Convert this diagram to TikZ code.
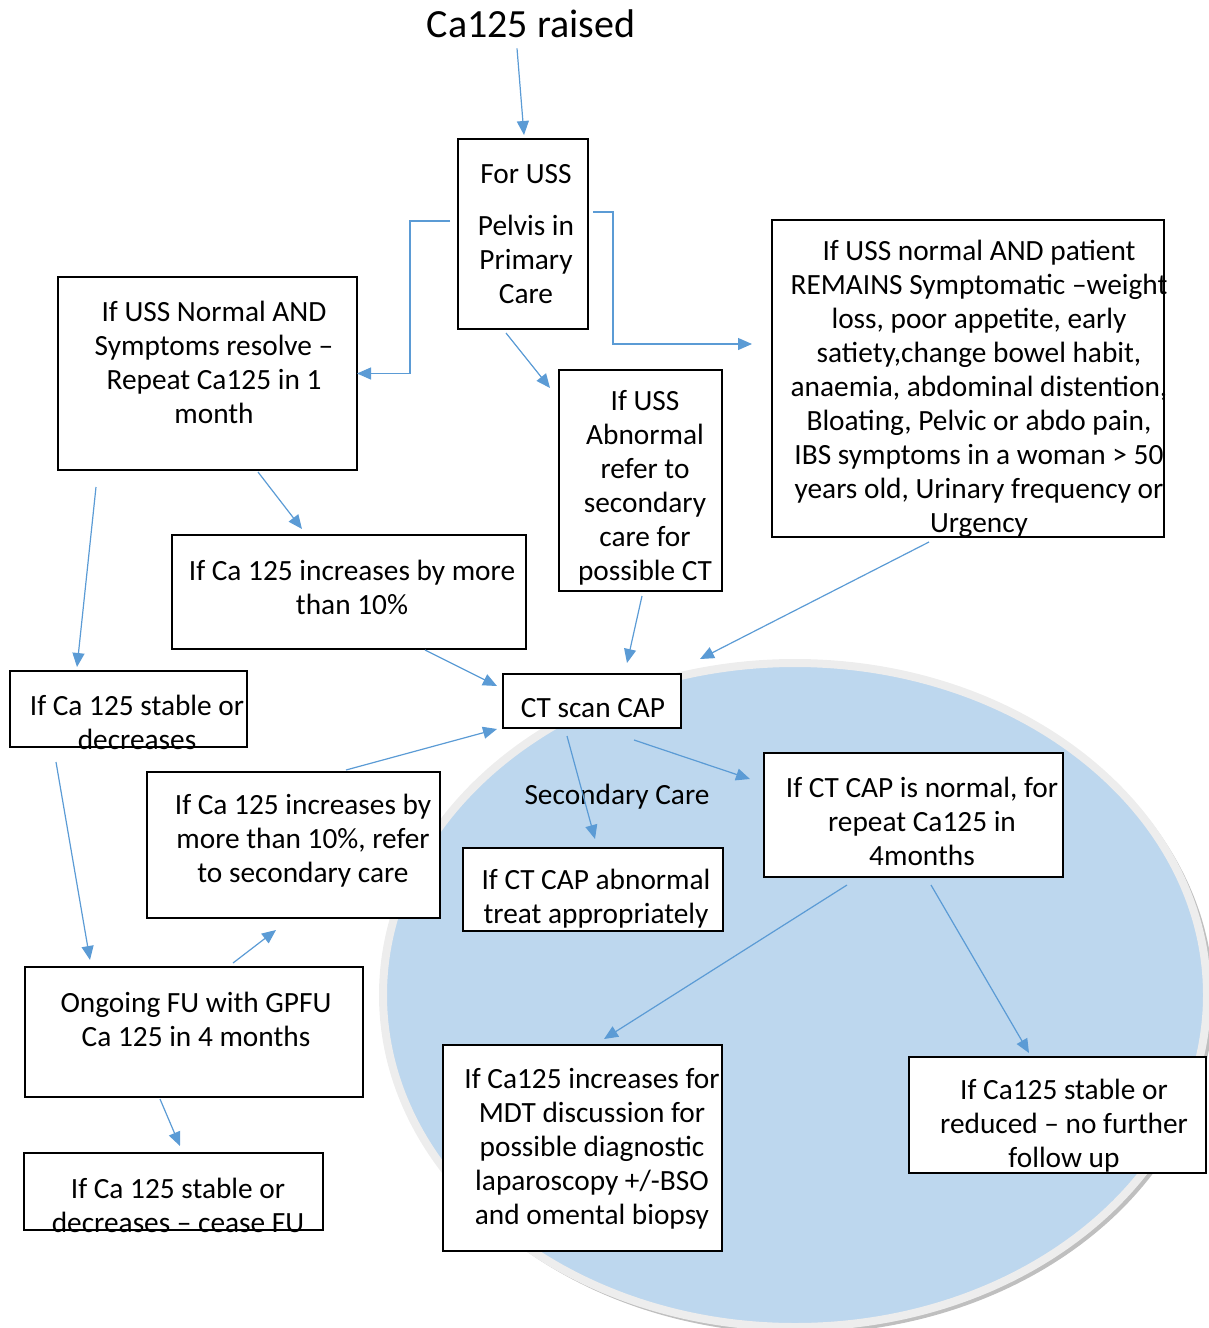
\documentclass[tikz,border=0pt]{standalone}
\usepackage{fontspec}
\setmainfont{Carlito}
\usepackage{xcolor}
\usepackage{tikz}
\usetikzlibrary{arrows.meta,positioning}
\definecolor{arrblue}{HTML}{5B9BD5}
\definecolor{carefill}{HTML}{BDD7EE}
\definecolor{carerim}{HTML}{EDEDED}

\begin{document}
\begin{tikzpicture}[x=0.75pt,y=-0.75pt,>={Triangle[length=10.5pt,width=9pt]},
    link/.style={draw=arrblue,line width=0.9pt,->},
    every edge/.style={link}]
    \tikzstyle{box}=[draw,fill=white,line width=1.2pt,outer sep=0pt,inner sep=0pt]
    \tikzstyle{txt}=[align=center,inner sep=0pt,font=\fontsize{22}{25.5}\selectfont]

    \useasboundingbox (0,0) rectangle (1208,1328);

    \fill[gray!50] (799,999) ellipse [x radius=311pt, y radius=251pt];
    \filldraw[fill=carefill,draw=carerim,line width=6pt] (795,995) ellipse [x radius=309pt, y radius=249pt];

    \node[inner sep=0pt,font=\fontsize{30}{36}\selectfont] (title) at (531,24) {Ca125 raised};

    \node[box,minimum width=97.5pt,minimum height=142.5pt]    (uss)      at (523,234)     {};
    \node[box,minimum width=224.25pt,minimum height=144.75pt] (normal)   at (207.5,373.5) {};
    \node[box,minimum width=122.25pt,minimum height=165.75pt] (abn)      at (640.5,480.5) {};
    \node[box,minimum width=294pt,minimum height=237.75pt]    (remains)  at (968,378.5)   {};
    \node[box,minimum width=265.5pt,minimum height=85.5pt]    (inc1)     at (349,592)     {};
    \node[box,minimum width=177.75pt,minimum height=57pt]     (stable1)  at (128.5,709)   {};
    \node[box,minimum width=133.5pt,minimum height=40.5pt]    (ct)       at (592,701)     {};
    \node[box,minimum width=219.75pt,minimum height=109.5pt]  (inc2)     at (293.5,845)   {};
    \node[box,minimum width=195pt,minimum height=62.25pt]     (abnct)    at (593,889.5)   {};
    \node[box,minimum width=224.25pt,minimum height=93pt]     (ctnormal) at (913.5,815)   {};
    \node[box,minimum width=253.5pt,minimum height=97.5pt]    (ongoing)  at (194,1032)    {};
    \node[box,minimum width=224.25pt,minimum height=57.75pt]  (cease)    at (173.5,1191.5){};
    \node[box,minimum width=209.25pt,minimum height=154.5pt]  (mdt)      at (582.5,1148)  {};
    \node[box,minimum width=222.75pt,minimum height=87pt]     (nofu)     at (1057.5,1115) {};

    \node[txt] (uss-t)      at (526,234)  {For USS\\[14pt] Pelvis in\\ Primary\\ Care};
    \node[txt] (normal-t)   at (214,362)  {If USS Normal AND\\ Symptoms resolve --\\ Repeat Ca125 in 1\\ month};
    \node[txt] (abn-t)      at (645,488)  {If USS\\ Abnormal\\ refer to\\ secondary\\ care for\\ possible CT};
    \node[txt] (remains-t)  at (979,389)  {If USS normal AND patient\\ REMAINS Symptomatic --weight\\
      loss, poor appetite, early\\ satiety,change bowel habit,\\ anaemia, abdominal distention,\\
      Bloating, Pelvic or abdo pain,\\ IBS symptoms in a woman > 50\\ years old, Urinary frequency or\\ Urgency};
    \node[txt] (inc1-t)     at (352,587)  {If Ca 125 increases by more\\ than 10\%};
    \node[txt] (stable1-t)  at (137,722)  {If Ca 125 stable or\\ decreases};
    \node[txt] (ct-t)       at (593,708)  {CT scan CAP};
    \node[txt] (inc2-t)     at (303,841)  {If Ca 125 increases by\\ more than 10\%, refer\\ to secondary care};
    \node[txt] (sec)        at (617,797)  {Secondary Care};
    \node[txt] (abnct-t)    at (596,899)  {If CT CAP abnormal\\ treat appropriately};
    \node[txt] (ctnormal-t) at (922,821)  {If CT CAP is normal, for\\ repeat Ca125 in\\ 4months};
    \node[txt] (ongoing-t)  at (196,1019) {Ongoing FU with GPFU\\ Ca 125 in 4 months};
    \node[txt] (cease-t)    at (178,1205) {If Ca 125 stable or\\ decreases -- cease FU};
    \node[txt] (mdt-t)      at (592,1149) {If Ca125 increases for\\ MDT discussion for\\ possible diagnostic\\
      laparoscopy +/-BSO\\ and omental biopsy};
    \node[txt] (nofu-t)     at (1064,1126){If Ca125 stable or\\ reduced -- no further\\ follow up};

    \draw[link] ([shift={(-8,-13)}]uss.west) -- ++(-40,0) |- (normal.east);
    \draw[link] ([shift={(5,-22)}]uss.east) -- ++(20,0) |- ([shift={(-20,-34.5)}]remains.west);

    \path ([shift={(-14,10)}]title.south)       edge ([shift={(1,-4)}]uss.north)
          ([shift={(-17,4)}]uss.south)          edge ([shift={(-9,18)}]abn.north west)
          ([shift={(50.5,2)}]normal.south)      edge ([shift={(-47,-6)}]inc1.north)
          ([shift={(38,17)}]normal.south west)  edge ([shift={(-51.5,-4)}]stable1.north)
          ([shift={(76,1)}]inc1.south)          edge ([shift={(-6,-15)}]ct.west)
          ([shift={(1.5,5)}]abn.south)          edge ([shift={(35,-11)}]ct.north)
          ([shift={(-39,5)}]remains.south)      edge ([shift={(19,-15)}]ct.north east)
          ([shift={(52.5,-2)}]inc2.north)       edge ([shift={(-6,1)}]ct.south west)
          ([shift={(-25,8)}]ct.south)           edge ([shift={(2,-9)}]abnct.north)
          ([shift={(42,12)}]ct.south)           edge ([shift={(-14,-36)}]ctnormal.west)
          ([shift={(-72.5,15)}]stable1.south)   edge ([shift={(65,-7)}]ongoing.north west)
          ([shift={(39,-4)}]ongoing.north)      edge ([shift={(-17.5,12)}]inc2.south)
          ([shift={(-34,2)}]ongoing.south)      edge ([shift={(6.5,-7)}]cease.north)
          ([shift={(-66.5,8)}]ctnormal.south)   edge ([shift={(21.5,-6)}]mdt.north)
          ([shift={(17.5,8)}]ctnormal.south)    edge ([shift={(-28.5,-4)}]nofu.north);
\end{tikzpicture}
\end{document}
